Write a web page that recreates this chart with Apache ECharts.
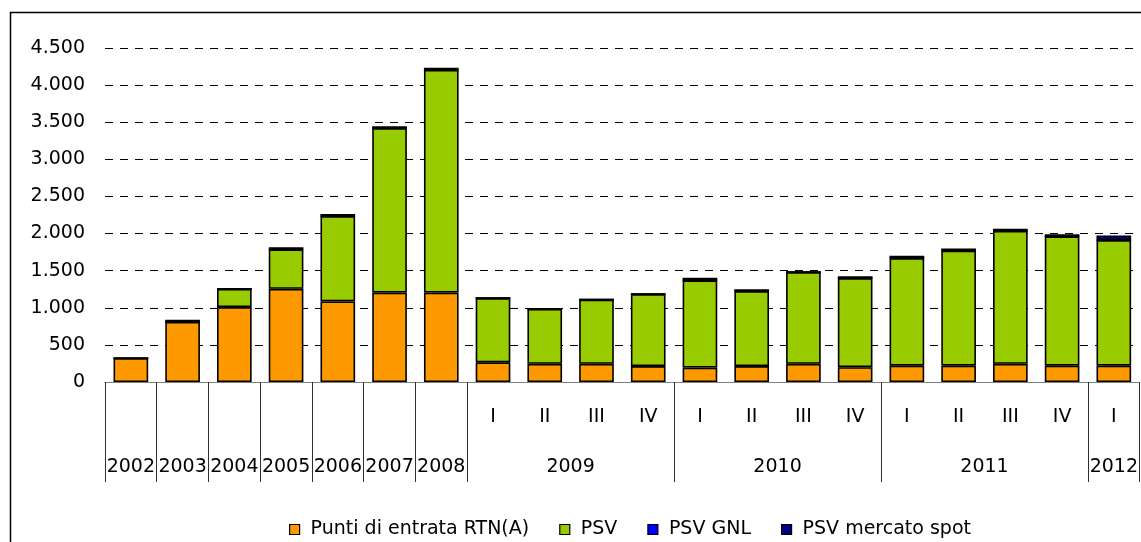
<!DOCTYPE html>
<html>
<head>
<meta charset="utf-8">
<script src="https://cdn.jsdelivr.net/npm/echarts@6/dist/echarts.min.js"></script>
<style>
    html,body{margin:0;padding:0;background:#fff;}
    #chart{width:1141px;height:542px;}
</style>
</head>
<body>
<div id="chart"></div>
<script>
// periodi: anni 2002-2008, poi trimestri 2009-2012
var periods=["2002","2003","2004","2005","2006","2007","2008",
    "2009-I","2009-II","2009-III","2009-IV",
    "2010-I","2010-II","2010-III","2010-IV",
    "2011-I","2011-II","2011-III","2011-IV",
    "2012-I"];
var yearLabels=["2002","2003","2004","2005","2006","2007","2008","2009","2010","2011","2012"];
var yearSpans=[1,1,1,1,1,1,1,4,4,4,1];
var yTicks=[0,500,1000,1500,2000,2500,3000,3500,4000,4500];

var rtn=[320,810,1010,1255,1085,1205,1205,265,245,245,215,195,215,245,200,220,220,245,220,220];
var psv=[0,0,245,530,1150,2215,3000,865,740,865,970,1175,1010,1235,1200,1450,1550,1790,1740,1690];
var psvGnl=[0,0,0,0,0,0,0,0,0,0,0,0,0,0,0,0,0,0,0,0];
var psvSpot=[0,30,0,30,30,25,30,0,0,0,0,35,25,0,25,30,30,30,30,65];

var seriesNames=["Punti di entrata RTN(A)","PSV","PSV GNL","PSV mercato spot"];
var seriesColors=["#ff9900","#99cc00","#0000ff","#000080"];
var seriesData=[rtn,psv,psvGnl,psvSpot];

var sFont="DejaVu Sans";

// posizioni delle etichette e dei separatori degli anni
var aYearTicks=[0],aYearCenters=[],oYearText={};
var iPos=0;
for(var i=0;i<yearSpans.length;i++){
    aYearCenters.push(iPos+yearSpans[i]/2);
    oYearText[iPos+yearSpans[i]/2]=yearLabels[i];
    iPos+=yearSpans[i];
    aYearTicks.push(iPos);
}

function fmtNum(v){
    return String(v).replace(/\B(?=(\d{3})+(?!\d))/g,".");
}

var aSeries=[];
for(var s=0;s<seriesNames.length;s++){
    aSeries.push({
        name:seriesNames[s],
        type:"bar",
        stack:"tot",
        xAxisIndex:0,
        barCategoryGap:"33%",
        data:seriesData[s],
        itemStyle:{
            color:seriesColors[s],
            borderColor:"#000",
            borderWidth:1.6
        }
    });
}

var oChart=echarts.init(document.getElementById("chart"));
var option={
    animation:false,
    textStyle:{fontFamily:sFont,color:"#000"},
    graphic:[{
        type:"rect",
        left:8,
        top:10,
        shape:{width:1300,height:700},
        style:{fill:"none",stroke:"#000",lineWidth:1.5},
        silent:true
    }],
    grid:{left:105,top:48,width:1038,height:334},
    legend:{
        left:284,
        top:515,
        itemWidth:10,
        itemHeight:10,
        itemGap:30,
        icon:"rect",
        itemStyle:{borderColor:"#000",borderWidth:1.2},
        textStyle:{fontFamily:sFont,fontSize:19,color:"#000",padding:[0,0,0,6]},
        data:seriesNames
    },
    xAxis:[{
        type:"category",
        data:periods,
        position:"bottom",
        axisLine:{lineStyle:{color:"#808080",width:1}},
        axisTick:{interval:0,length:51,lineStyle:{color:"#404040"}},
        axisLabel:{
            interval:0,
            margin:26,
            fontFamily:sFont,
            fontSize:19,
            color:"#000",
            formatter:function(v){
                var a=v.split("-");
                return a.length>1?a[1]:"";
            }
        }
    },{
        type:"value",
        min:0,
        max:periods.length,
        position:"bottom",
        axisLine:{show:false},
        splitLine:{show:false},
        axisTick:{show:true,customValues:aYearTicks,length:100,lineStyle:{color:"#303030"}},
        axisLabel:{
            customValues:aYearCenters,
            margin:76,
            fontFamily:sFont,
            fontSize:19,
            color:"#000",
            formatter:function(v){
                return oYearText[v]||"";
            }
        }
    }],
    yAxis:{
        type:"value",
        min:0,
        max:4500,
        interval:500,
        axisLine:{show:false},
        axisTick:{show:false},
        axisLabel:{
            margin:20,
            fontFamily:sFont,
            fontSize:19,
            color:"#000",
            formatter:function(v){
                return yTicks.indexOf(v)>=0?fmtNum(v):"";
            }
        },
        splitLine:{lineStyle:{color:"#000",type:[8,7],width:1}}
    },
    series:aSeries
};
oChart.setOption(option);
</script>
</body>
</html>
